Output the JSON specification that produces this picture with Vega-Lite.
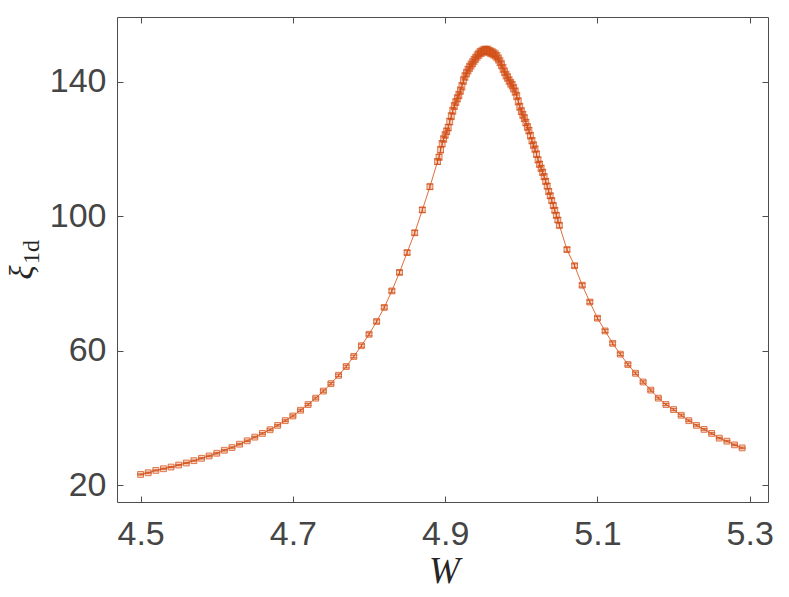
{
  "$schema": "https://vega.github.io/schema/vega-lite/v6.json",
  "width": 651,
  "height": 485,
  "autosize": {"type": "none"},
  "padding": {"left": 117, "top": 17, "right": 21, "bottom": 95},
  "background": "white",
  "config": {
    "view": {"stroke": null},
    "axis": {
      "grid": false,
      "domainColor": "#4d4d4d",
      "domainWidth": 1,
      "tickColor": "#4d4d4d",
      "tickSize": -6,
      "tickWidth": 1,
      "labelColor": "#454545",
      "labelFont": "Liberation Sans",
      "labelFontSize": 34,
      "titleColor": "#262626",
      "titleFont": "Liberation Serif",
      "titleFontWeight": "normal"
    }
  },
  "data": {
    "values": [
      {"W": 4.50, "xi": 23.2, "e": 0.15},
      {"W": 4.51, "xi": 23.7, "e": 0.15},
      {"W": 4.52, "xi": 24.4, "e": 0.15},
      {"W": 4.53, "xi": 24.9, "e": 0.15},
      {"W": 4.54, "xi": 25.4, "e": 0.15},
      {"W": 4.55, "xi": 26.0, "e": 0.15},
      {"W": 4.56, "xi": 26.6, "e": 0.15},
      {"W": 4.57, "xi": 27.3, "e": 0.15},
      {"W": 4.58, "xi": 28.0, "e": 0.2},
      {"W": 4.59, "xi": 28.7, "e": 0.2},
      {"W": 4.60, "xi": 29.5, "e": 0.2},
      {"W": 4.61, "xi": 30.4, "e": 0.2},
      {"W": 4.62, "xi": 31.2, "e": 0.2},
      {"W": 4.63, "xi": 32.2, "e": 0.2},
      {"W": 4.64, "xi": 33.2, "e": 0.2},
      {"W": 4.65, "xi": 34.3, "e": 0.2},
      {"W": 4.66, "xi": 35.4, "e": 0.25},
      {"W": 4.67, "xi": 36.5, "e": 0.25},
      {"W": 4.68, "xi": 37.8, "e": 0.25},
      {"W": 4.69, "xi": 39.2, "e": 0.25},
      {"W": 4.70, "xi": 40.6, "e": 0.3},
      {"W": 4.71, "xi": 42.3, "e": 0.3},
      {"W": 4.72, "xi": 44.0, "e": 0.3},
      {"W": 4.73, "xi": 45.9, "e": 0.3},
      {"W": 4.74, "xi": 48.0, "e": 0.35},
      {"W": 4.75, "xi": 50.2, "e": 0.35},
      {"W": 4.76, "xi": 52.7, "e": 0.35},
      {"W": 4.77, "xi": 55.3, "e": 0.4},
      {"W": 4.78, "xi": 58.3, "e": 0.4},
      {"W": 4.79, "xi": 61.5, "e": 0.45},
      {"W": 4.80, "xi": 64.9, "e": 0.45},
      {"W": 4.81, "xi": 68.7, "e": 0.5},
      {"W": 4.82, "xi": 72.9, "e": 0.5},
      {"W": 4.83, "xi": 77.8, "e": 0.55},
      {"W": 4.84, "xi": 83.3, "e": 0.6},
      {"W": 4.85, "xi": 89.2, "e": 0.65},
      {"W": 4.86, "xi": 95.1, "e": 0.7},
      {"W": 4.87, "xi": 101.9, "e": 0.75},
      {"W": 4.88, "xi": 108.8, "e": 0.8},
      {"W": 4.890, "xi": 116.3, "e": 0.85},
      {"W": 4.892, "xi": 117.6, "e": 0.85},
      {"W": 4.894, "xi": 119.8, "e": 0.9},
      {"W": 4.896, "xi": 121.6, "e": 0.9},
      {"W": 4.898, "xi": 123.0, "e": 0.9},
      {"W": 4.900, "xi": 124.2, "e": 0.9},
      {"W": 4.902, "xi": 125.3, "e": 0.95},
      {"W": 4.904, "xi": 126.4, "e": 0.95},
      {"W": 4.906, "xi": 128.2, "e": 0.95},
      {"W": 4.908, "xi": 129.8, "e": 1.0},
      {"W": 4.910, "xi": 131.4, "e": 1.0},
      {"W": 4.912, "xi": 132.8, "e": 1.0},
      {"W": 4.914, "xi": 134.0, "e": 1.0},
      {"W": 4.916, "xi": 135.1, "e": 1.05},
      {"W": 4.918, "xi": 136.1, "e": 1.05},
      {"W": 4.920, "xi": 137.4, "e": 1.05},
      {"W": 4.922, "xi": 138.7, "e": 1.1},
      {"W": 4.924, "xi": 140.4, "e": 1.1},
      {"W": 4.926, "xi": 141.6, "e": 1.1},
      {"W": 4.928, "xi": 142.6, "e": 1.1},
      {"W": 4.930, "xi": 143.5, "e": 1.1},
      {"W": 4.932, "xi": 144.3, "e": 1.15},
      {"W": 4.934, "xi": 145.0, "e": 1.15},
      {"W": 4.936, "xi": 145.7, "e": 1.15},
      {"W": 4.938, "xi": 146.4, "e": 1.15},
      {"W": 4.940, "xi": 147.0, "e": 1.15},
      {"W": 4.942, "xi": 147.7, "e": 1.2},
      {"W": 4.944, "xi": 148.2, "e": 1.2},
      {"W": 4.946, "xi": 148.7, "e": 1.2},
      {"W": 4.948, "xi": 148.9, "e": 1.2},
      {"W": 4.950, "xi": 149.2, "e": 1.2},
      {"W": 4.952, "xi": 149.4, "e": 1.2},
      {"W": 4.954, "xi": 149.3, "e": 1.2},
      {"W": 4.956, "xi": 149.4, "e": 1.2},
      {"W": 4.958, "xi": 149.0, "e": 1.2},
      {"W": 4.960, "xi": 148.8, "e": 1.2},
      {"W": 4.962, "xi": 148.6, "e": 1.2},
      {"W": 4.964, "xi": 148.3, "e": 1.2},
      {"W": 4.966, "xi": 148.0, "e": 1.2},
      {"W": 4.968, "xi": 147.5, "e": 1.2},
      {"W": 4.970, "xi": 146.8, "e": 1.15},
      {"W": 4.972, "xi": 146.0, "e": 1.15},
      {"W": 4.974, "xi": 145.1, "e": 1.15},
      {"W": 4.976, "xi": 144.0, "e": 1.15},
      {"W": 4.978, "xi": 143.0, "e": 1.1},
      {"W": 4.980, "xi": 142.0, "e": 1.1},
      {"W": 4.982, "xi": 141.3, "e": 1.1},
      {"W": 4.984, "xi": 140.4, "e": 1.1},
      {"W": 4.986, "xi": 139.6, "e": 1.1},
      {"W": 4.988, "xi": 139.0, "e": 1.1},
      {"W": 4.990, "xi": 138.1, "e": 1.05},
      {"W": 4.992, "xi": 137.1, "e": 1.05},
      {"W": 4.994, "xi": 135.8, "e": 1.05},
      {"W": 4.996, "xi": 134.2, "e": 1.05},
      {"W": 4.998, "xi": 132.6, "e": 1.0},
      {"W": 5.000, "xi": 131.3, "e": 1.0},
      {"W": 5.002, "xi": 130.2, "e": 1.0},
      {"W": 5.004, "xi": 129.2, "e": 1.0},
      {"W": 5.006, "xi": 127.9, "e": 0.95},
      {"W": 5.008, "xi": 126.6, "e": 0.95},
      {"W": 5.010, "xi": 125.5, "e": 0.95},
      {"W": 5.012, "xi": 124.0, "e": 0.95},
      {"W": 5.014, "xi": 122.5, "e": 0.9},
      {"W": 5.016, "xi": 121.2, "e": 0.9},
      {"W": 5.018, "xi": 120.0, "e": 0.9},
      {"W": 5.020, "xi": 118.5, "e": 0.9},
      {"W": 5.022, "xi": 116.8, "e": 0.85},
      {"W": 5.024, "xi": 115.5, "e": 0.85},
      {"W": 5.026, "xi": 114.3, "e": 0.85},
      {"W": 5.028, "xi": 113.1, "e": 0.85},
      {"W": 5.030, "xi": 111.8, "e": 0.85},
      {"W": 5.032, "xi": 110.4, "e": 0.8},
      {"W": 5.034, "xi": 109.0, "e": 0.8},
      {"W": 5.036, "xi": 107.4, "e": 0.8},
      {"W": 5.038, "xi": 106.1, "e": 0.8},
      {"W": 5.040, "xi": 104.7, "e": 0.75},
      {"W": 5.042, "xi": 103.2, "e": 0.75},
      {"W": 5.044, "xi": 101.8, "e": 0.75},
      {"W": 5.046, "xi": 100.3, "e": 0.75},
      {"W": 5.048, "xi": 98.9, "e": 0.7},
      {"W": 5.050, "xi": 97.3, "e": 0.7},
      {"W": 5.06, "xi": 90.1, "e": 0.65},
      {"W": 5.07, "xi": 85.3, "e": 0.6},
      {"W": 5.08, "xi": 79.5, "e": 0.55},
      {"W": 5.09, "xi": 74.5, "e": 0.5},
      {"W": 5.10, "xi": 69.7, "e": 0.5},
      {"W": 5.11, "xi": 65.9, "e": 0.45},
      {"W": 5.12, "xi": 62.2, "e": 0.45},
      {"W": 5.13, "xi": 59.0, "e": 0.4},
      {"W": 5.14, "xi": 55.9, "e": 0.4},
      {"W": 5.15, "xi": 53.3, "e": 0.35},
      {"W": 5.16, "xi": 50.7, "e": 0.35},
      {"W": 5.17, "xi": 48.3, "e": 0.35},
      {"W": 5.18, "xi": 45.9, "e": 0.3},
      {"W": 5.19, "xi": 44.0, "e": 0.3},
      {"W": 5.20, "xi": 42.5, "e": 0.3},
      {"W": 5.21, "xi": 40.8, "e": 0.3},
      {"W": 5.22, "xi": 39.2, "e": 0.25},
      {"W": 5.23, "xi": 37.8, "e": 0.25},
      {"W": 5.24, "xi": 36.6, "e": 0.25},
      {"W": 5.25, "xi": 35.4, "e": 0.25},
      {"W": 5.26, "xi": 34.0, "e": 0.2},
      {"W": 5.27, "xi": 33.1, "e": 0.2},
      {"W": 5.28, "xi": 32.0, "e": 0.2},
      {"W": 5.29, "xi": 31.1, "e": 0.2}
    ]
  },
  "resolve": {
    "scale": {"x": "independent", "y": "independent"},
    "axis": {"x": "independent", "y": "independent"}
  },
  "layer": [
    {
      "mark": {"type": "line", "color": "#D95319", "strokeWidth": 1, "opacity": 0.85},
      "encoding": {
        "x": {
          "field": "W", "type": "quantitative",
          "scale": {"domain": [4.469, 5.324], "nice": false, "zero": false},
          "axis": {
            "orient": "bottom",
            "values": [4.5, 4.7, 4.9, 5.1, 5.3],
            "format": ".1f",
            "labelPadding": 21,
            "title": "W",
            "titleFontStyle": "italic",
            "titleFontSize": 37,
            "titleX": 327,
            "titleY": 80,
            "titleBaseline": "alphabetic",
            "titleAlign": "center"
          }
        },
        "y": {
          "field": "xi", "type": "quantitative",
          "scale": {"domain": [15, 159.3], "nice": false, "zero": false},
          "axis": {
            "orient": "left",
            "values": [20, 60, 100, 140],
            "labelPadding": 17,
            "title": "ξ",
            "titleFontStyle": "italic",
            "titleFontSize": 33,
            "titleAngle": -90,
            "titleX": -85,
            "titleY": 255,
            "titleBaseline": "alphabetic",
            "titleAlign": "center"
          }
        }
      }
    },
    {
      "mark": {"type": "point", "shape": "square", "size": 34, "filled": false, "stroke": "#D95319", "strokeWidth": 1, "strokeOpacity": 0.75, "fill": "#D95319", "fillOpacity": 0.25},
      "encoding": {
        "x": {"field": "W", "type": "quantitative", "scale": {"domain": [4.469, 5.324], "nice": false, "zero": false}, "axis": null},
        "y": {"field": "xi", "type": "quantitative", "scale": {"domain": [15, 159.3], "nice": false, "zero": false}, "axis": null}
      }
    },
    {
      "mark": {"type": "errorbar", "color": "#D0501A", "thickness": 1, "ticks": {"size": 7, "thickness": 1.2, "color": "#D0501A"}},
      "encoding": {
        "x": {
          "field": "W", "type": "quantitative",
          "scale": {"domain": [4.469, 5.324], "nice": false, "zero": false},
          "axis": {"orient": "top", "values": [4.5, 4.7, 4.9, 5.1, 5.3], "labels": false, "title": null}
        },
        "y": {
          "field": "xi", "type": "quantitative",
          "scale": {"domain": [15, 159.3], "nice": false, "zero": false},
          "axis": {
            "orient": "right",
            "values": [20, 60, 100, 140],
            "labels": false,
            "title": "1d",
            "titleFontSize": 24,
            "titleAngle": -90,
            "titleX": -729.5,
            "titleY": 234.5,
            "titleBaseline": "alphabetic",
            "titleAlign": "center"
          }
        },
        "yError": {"field": "e"}
      }
    }
  ]
}
